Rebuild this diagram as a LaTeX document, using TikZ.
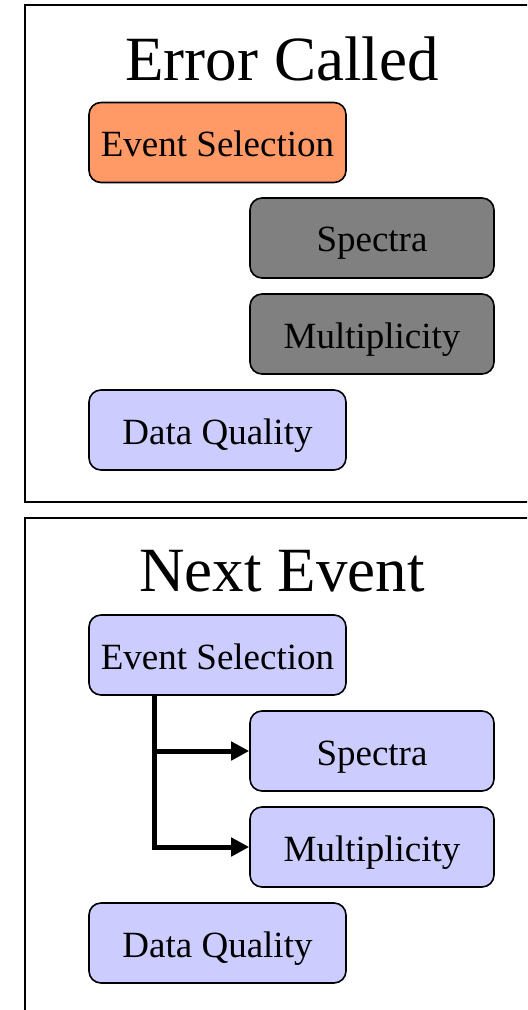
\documentclass[tikz,border=0pt]{standalone}
\usepackage{fontspec}
\setmainfont{Liberation Serif}
\usetikzlibrary{arrows.meta}

\definecolor{errorfill}{HTML}{FF9966}
\definecolor{idlefill}{HTML}{808080}
\definecolor{okfill}{HTML}{CCCCFF}

\tikzset{
	module/.style = {draw = black, line width = 0.8pt, rounded corners = 6pt, inner sep = 0pt,
		text height = 14pt, text depth = 0pt, font = \fontsize{18.5}{20}\selectfont},
	wide/.style = {module, minimum width = 128.5pt, minimum height = 40pt},
	narrow/.style = {module, minimum width = 122pt, minimum height = 40pt},
	panel/.style = {draw = black, line width = 1pt},
	heading/.style = {font = \fontsize{31.5}{34}\selectfont},
	flow/.style = {line width = 2.5pt, -{Triangle[length = 9pt, width = 9pt]}}
}

\begin{document}
\begin{tikzpicture}[x = 0.5pt, y = -0.5pt]
	\useasboundingbox (0,0) rectangle (527,1010);
	\clip (0,0) rectangle (527,1010);

	% error called
	\draw[panel] (25,5) rectangle (540,502);
	\node[heading] (T1) at (282,58.5) {Error Called};
	\node[wide, fill = errorfill] (ES1) at (217.5,142.5) {Event Selection};
	\node[narrow, fill = idlefill] (SP1) at (372,238) {Spectra};
	\node[narrow, fill = idlefill] (MU1) at (372,334) {Multiplicity};
	\node[wide, fill = okfill] (DQ1) at (217.5,430) {Data Quality};

	% next event
	\draw[panel] (25,518) rectangle (540,1030);
	\node[heading] (T2) at (282,571.5) {Next Event};
	\node[wide, fill = okfill] (ES2) at (217.5,655) {Event Selection};
	\node[narrow, fill = okfill] (SP2) at (372,751) {Spectra};
	\node[narrow, fill = okfill] (MU2) at (372,847) {Multiplicity};
	\node[wide, fill = okfill] (DQ2) at (217.5,943) {Data Quality};

	\coordinate (A) at ([xshift = 33pt]ES2.south west);
	\draw[flow] (A) |- (SP2.west);
	\draw[flow] (A) |- (MU2.west);
\end{tikzpicture}
\end{document}
